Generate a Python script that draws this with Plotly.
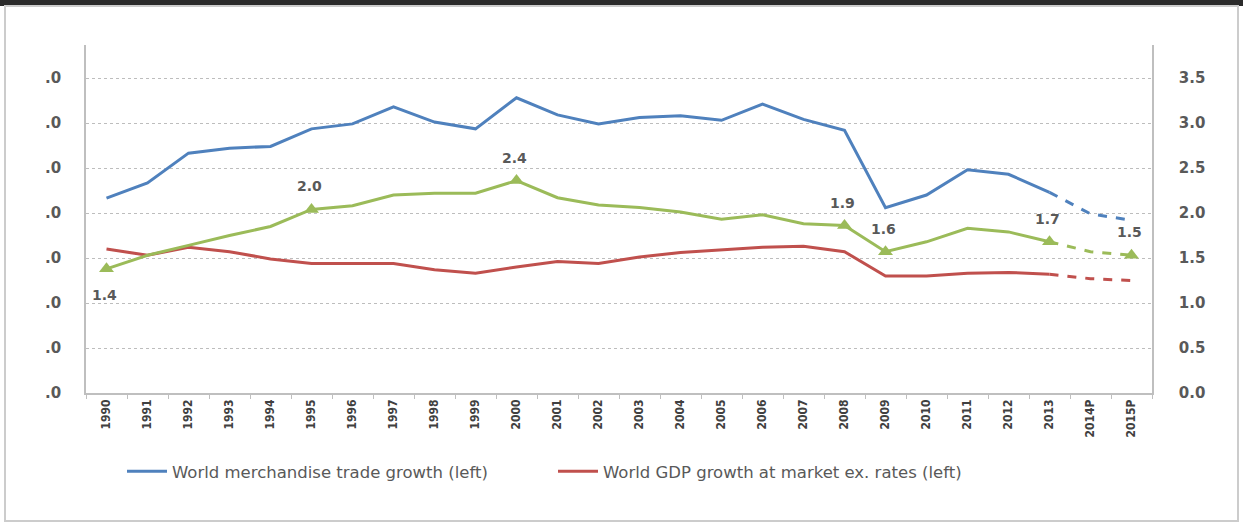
import plotly.graph_objects as go

years = ["1990", "1991", "1992", "1993", "1994", "1995", "1996", "1997", "1998", "1999",
         "2000", "2001", "2002", "2003", "2004", "2005", "2006", "2007", "2008", "2009",
         "2010", "2011", "2012", "2013", "2014P", "2015P"]

# World merchandise trade growth (left axis)
trade = [4.33, 4.67, 5.33, 5.44, 5.48, 5.87, 5.98, 6.36, 6.02, 5.87,
         6.56, 6.18, 5.98, 6.12, 6.16, 6.06, 6.42, 6.08, 5.84, 4.12,
         4.40, 4.96, 4.86, 4.46, 3.98, 3.84]

# World GDP growth at market exchange rates (left axis)
gdp = [3.20, 3.06, 3.24, 3.14, 2.98, 2.88, 2.88, 2.88, 2.74, 2.66,
       2.80, 2.92, 2.88, 3.02, 3.12, 3.18, 3.24, 3.26, 3.14, 2.60,
       2.60, 2.66, 2.68, 2.64, 2.54, 2.50]

# Ratio of trade growth to GDP growth (right axis)
ratio = [1.38, 1.53, 1.64, 1.75, 1.85, 2.04, 2.08, 2.20, 2.22, 2.22,
         2.36, 2.17, 2.09, 2.06, 2.01, 1.93, 1.98, 1.88, 1.86, 1.57,
         1.68, 1.83, 1.79, 1.68, 1.57, 1.53]

labelled_years = ["1990", "1995", "2000", "2008", "2009", "2013", "2015P"]

left_ticks = [0, 1, 2, 3, 4, 5, 6, 7]
left_ticktext = [".0"] * 8
right_ticks = [0, 0.5, 1.0, 1.5, 2.0, 2.5, 3.0, 3.5]

BLUE = "#4F81BD"
RED = "#C0504D"
GREEN = "#9BBB59"
TXT = "#595959"

split = years.index("2013")

fig = go.Figure()

def add_series(vals, color, name, yaxis="y"):
    fig.add_trace(go.Scatter(x=years[:split + 1], y=vals[:split + 1], mode="lines",
                             line=dict(color=color, width=3), name=name,
                             showlegend=name is not None, yaxis=yaxis))
    fig.add_trace(go.Scatter(x=years[split:], y=vals[split:], mode="lines",
                             line=dict(color=color, width=3, dash="dash"),
                             showlegend=False, yaxis=yaxis))

add_series(trade, BLUE, "World merchandise trade growth (left)")
add_series(gdp, RED, "World GDP growth at market ex. rates (left)")
add_series(ratio, GREEN, None, yaxis="y2")

mx = [y for y in years if y in labelled_years]
my = [ratio[years.index(y)] for y in mx]
fig.add_trace(go.Scatter(x=mx, y=my, mode="markers", yaxis="y2", showlegend=False,
                         marker=dict(symbol="triangle-up", size=13, color=GREEN)))

for y in labelled_years:
    i = years.index(y)
    v = ratio[i]
    shift = -26 if y == "1990" else 23
    fig.add_annotation(x=i, xref="x", y=v, yref="y2", text=f"{v:.1f}", showarrow=False,
                       yshift=shift, xshift=-2,
                       font=dict(family="DejaVu Sans", size=14, color=TXT, weight="bold"))

# frame
L, T, R, B = 86, 45, 1152, 393
W, H = R - L, B - T
def px(x):
    return (x - L) / W
def py(y):
    return (B - y) / H

fig.add_shape(type="rect", xref="paper", yref="paper", x0=px(-5), x1=px(1250),
              y0=py(6), y1=py(-5), fillcolor="#2b2b2b", line=dict(width=0), layer="below")
fig.add_shape(type="rect", xref="paper", yref="paper", x0=px(5), x1=px(1238),
              y0=py(521), y1=py(6), line=dict(color="#cccccc", width=2), layer="below")

fig.update_layout(
    width=1243, height=526,
    margin=dict(l=L, r=1243 - R, t=T, b=526 - B),
    paper_bgcolor="white", plot_bgcolor="white",
    font=dict(family="DejaVu Sans", color=TXT),
    showlegend=True,
    legend=dict(orientation="h", x=px(122), y=py(454), xanchor="left", yanchor="top",
                font=dict(size=16.5, color=TXT), entrywidth=376, entrywidthmode="pixels",
                itemwidth=40, bgcolor="rgba(0,0,0,0)"),
    xaxis=dict(type="category", tickangle=-90, showline=True, linecolor="#bfbfbf",
               linewidth=1.5, ticks="outside", ticklen=4, tickcolor="#bfbfbf",
               tickson="boundaries", showgrid=False, range=[-0.5, len(years) - 0.5],
               tickfont=dict(family="DejaVu Sans Condensed", size=12, color="#404040",
                             weight="bold"),
               zeroline=False),
    yaxis=dict(range=[0, 7 * H / 315], tickvals=left_ticks, ticktext=left_ticktext,
               showline=True, linecolor="#bfbfbf", linewidth=1.5, showgrid=True,
               gridcolor="#bdbdbd", griddash="dot", gridwidth=1, zeroline=False,
               ticks="", ticklabelstandoff=20,
               tickfont=dict(family="DejaVu Sans", size=15, color=TXT, weight="bold")),
    yaxis2=dict(range=[0, 3.5 * H / 315], tickvals=right_ticks, tickformat=".1f",
                overlaying="y", side="right", showline=True, linecolor="#bfbfbf",
                linewidth=1.5, showgrid=False, zeroline=False, ticks="",
                ticklabelstandoff=22,
                tickfont=dict(family="DejaVu Sans", size=15, color=TXT, weight="bold")),
)

fig.write_html("out.html")
